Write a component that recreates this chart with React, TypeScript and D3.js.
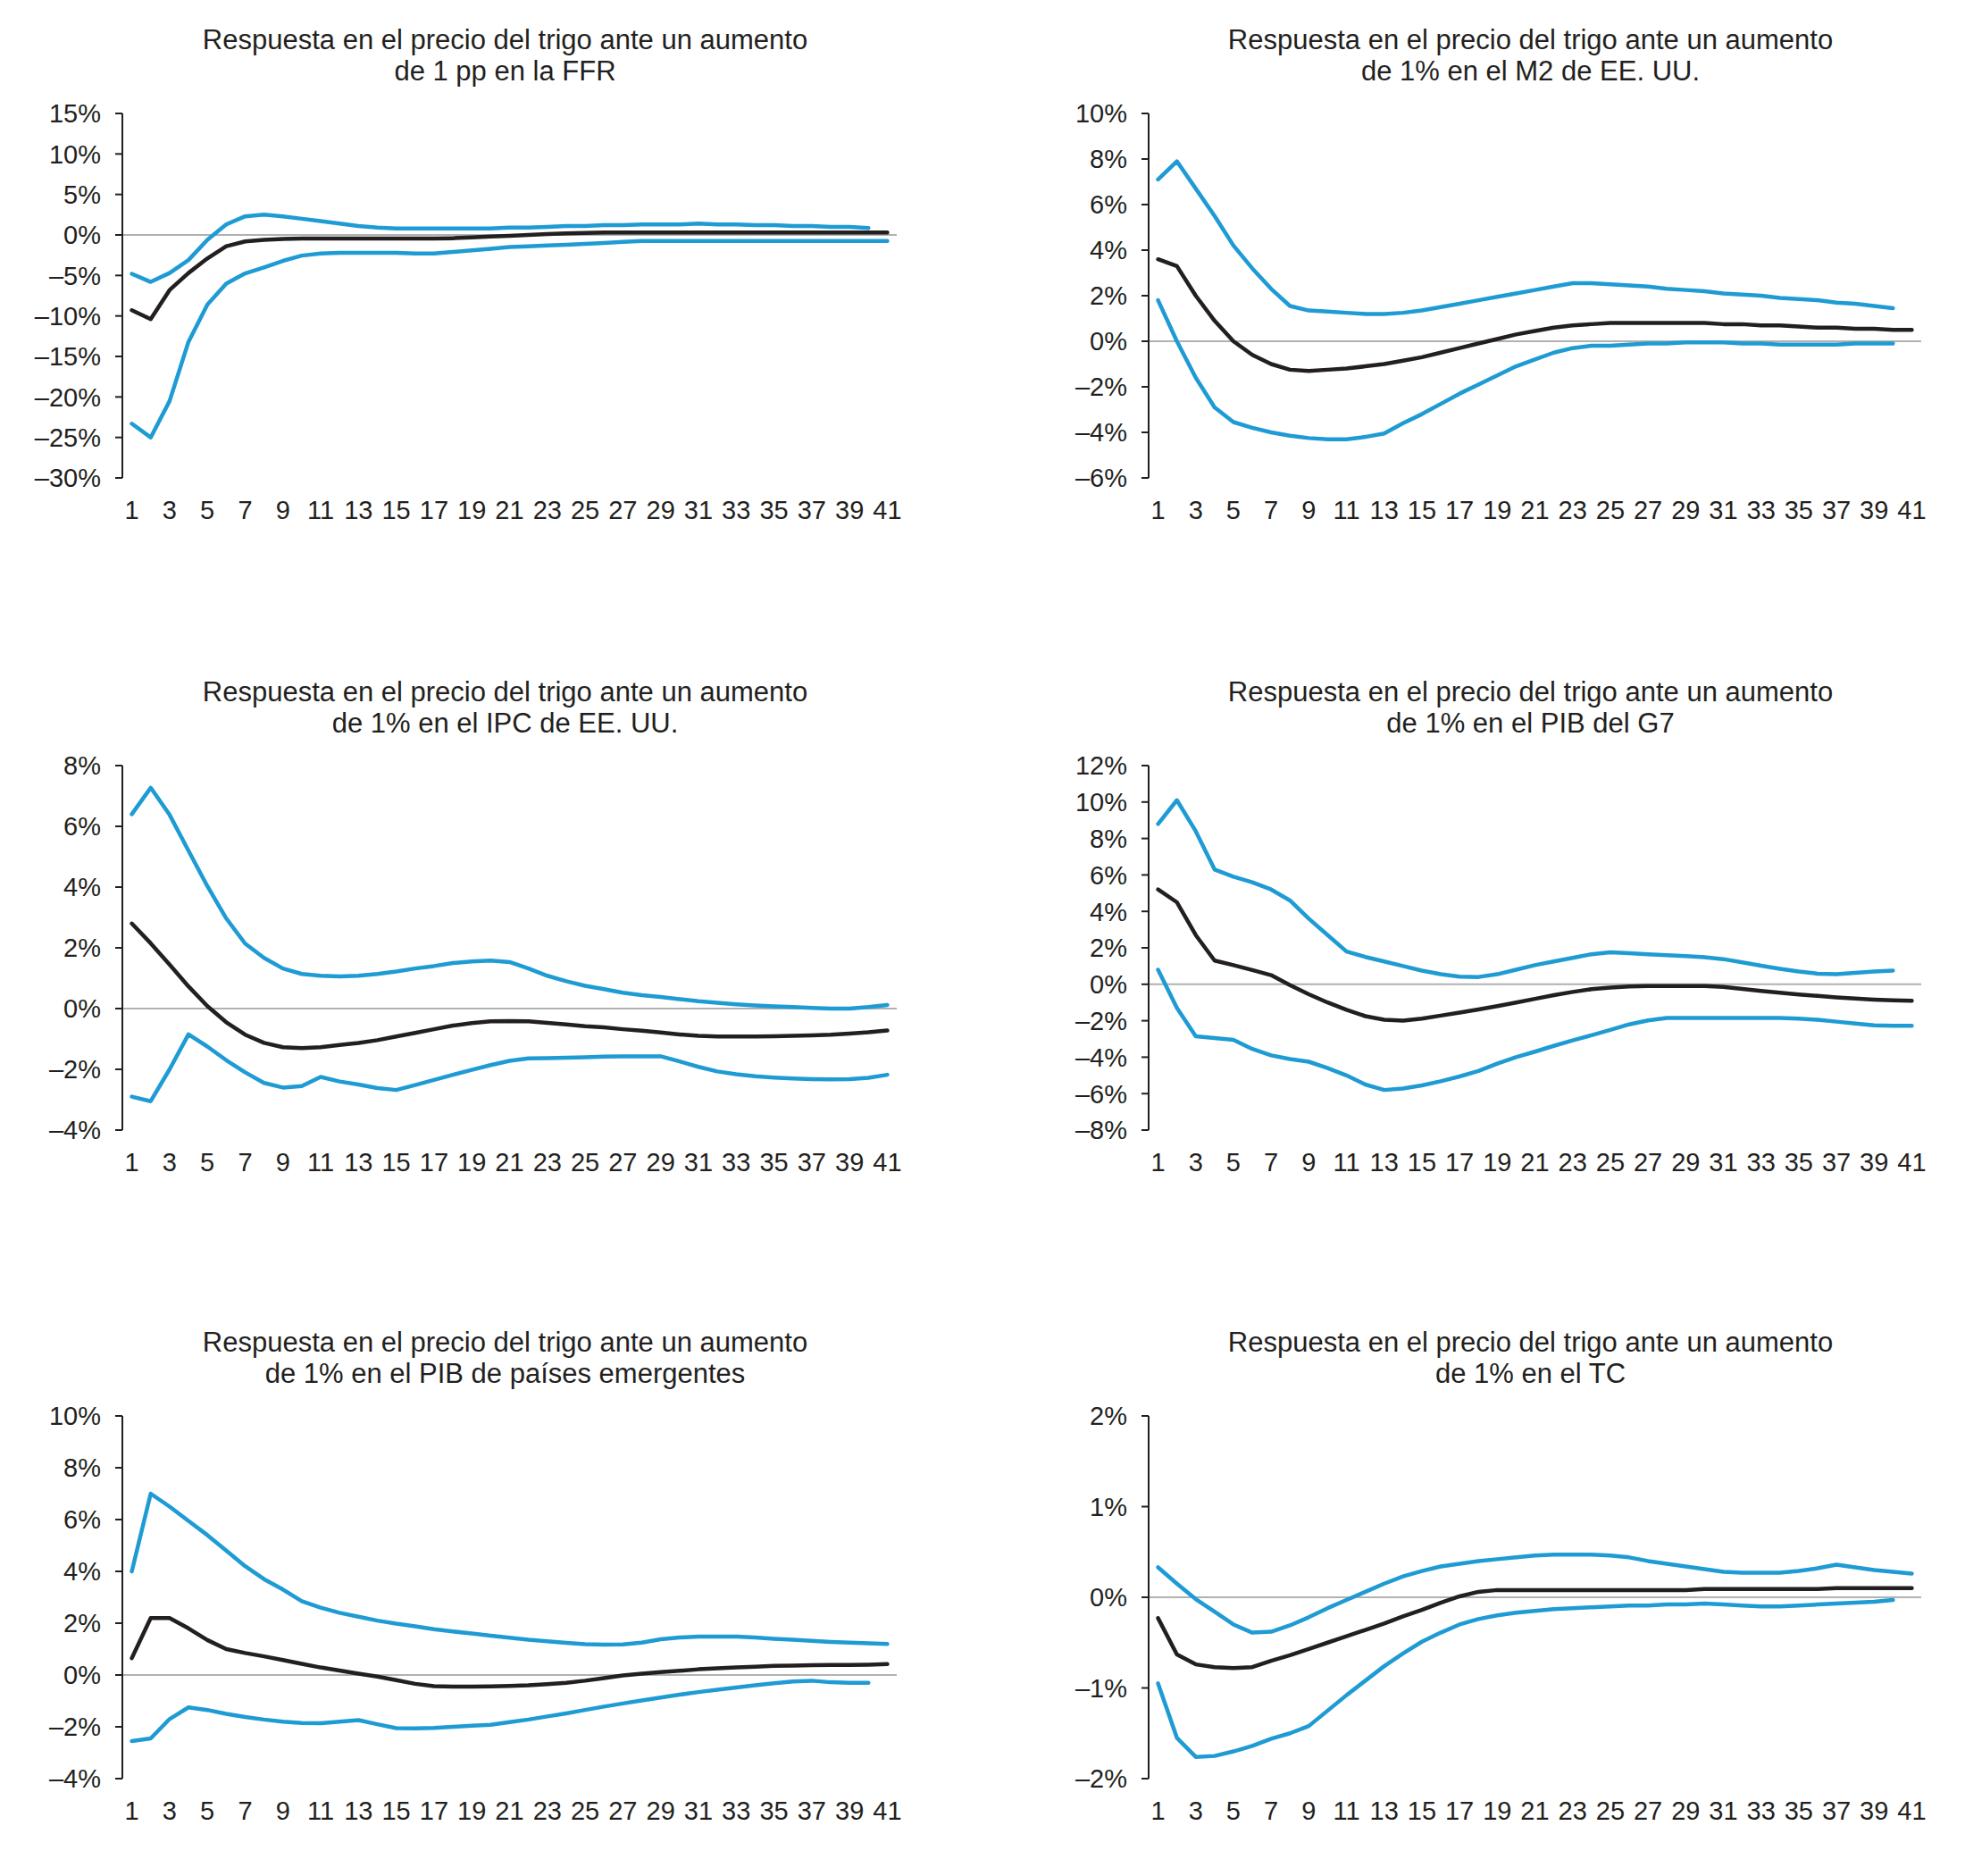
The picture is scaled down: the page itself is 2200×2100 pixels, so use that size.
import React from 'react';
import * as d3 from 'd3';

const periods = [1,2,3,4,5,6,7,8,9,10,11,12,13,14,15,16,17,18,19,20,21,22,23,24,25,26,27,28,29,30,31,32,33,34,35,36,37,38,39,40,41];
const xTickLabels = [1,3,5,7,9,11,13,15,17,19,21,23,25,27,29,31,33,35,37,39,41];

const titleLine1 = 'Respuesta en el precio del trigo ante un aumento';

// Panel 1: FFR
const ffrTitle = 'de 1 pp en la FFR';
const ffrTicks = [15,10,5,0,-5,-10,-15,-20,-25,-30];
const ffrMid = [-9.3,-10.4,-6.8,-4.7,-2.9,-1.4,-0.8,-0.6,-0.5,-0.45,-0.45,-0.45,-0.45,-0.45,-0.45,-0.45,-0.45,-0.4,-0.3,-0.2,-0.1,0.0,0.1,0.2,0.25,0.3,0.3,0.3,0.3,0.3,0.3,0.3,0.3,0.3,0.3,0.3,0.3,0.3,0.3,0.3,0.3];
const ffrUpper = [-4.8,-5.8,-4.7,-3.1,-0.6,1.3,2.3,2.5,2.3,2.0,1.7,1.4,1.1,0.9,0.8,0.8,0.8,0.8,0.8,0.8,0.9,0.9,1.0,1.1,1.1,1.2,1.2,1.3,1.3,1.3,1.4,1.3,1.3,1.2,1.2,1.1,1.1,1.0,1.0,0.85];
const ffrLower = [-23.3,-25.0,-20.5,-13.2,-8.6,-6.0,-4.75,-4.0,-3.2,-2.55,-2.3,-2.2,-2.2,-2.2,-2.2,-2.3,-2.3,-2.1,-1.9,-1.7,-1.5,-1.4,-1.3,-1.2,-1.1,-1.0,-0.85,-0.75,-0.75,-0.75,-0.75,-0.75,-0.75,-0.75,-0.75,-0.75,-0.75,-0.75,-0.75,-0.75,-0.75];

// Panel 2: M2
const m2Title = 'de 1% en el M2 de EE. UU.';
const m2Ticks = [10,8,6,4,2,0,-2,-4,-6];
const m2Mid = [3.6,3.3,2.0,0.9,0.0,-0.6,-1.0,-1.25,-1.3,-1.25,-1.2,-1.1,-1.0,-0.85,-0.7,-0.5,-0.3,-0.1,0.1,0.3,0.45,0.6,0.7,0.75,0.8,0.8,0.8,0.8,0.8,0.8,0.75,0.75,0.7,0.7,0.65,0.6,0.6,0.55,0.55,0.5,0.5];
const m2Upper = [7.1,7.9,6.7,5.5,4.2,3.2,2.3,1.55,1.35,1.3,1.25,1.2,1.2,1.25,1.35,1.5,1.65,1.8,1.95,2.1,2.25,2.4,2.55,2.55,2.5,2.45,2.4,2.3,2.25,2.2,2.1,2.05,2.0,1.9,1.85,1.8,1.7,1.65,1.55,1.45];
const m2Lower = [1.8,0.0,-1.6,-2.9,-3.55,-3.8,-4.0,-4.15,-4.25,-4.3,-4.3,-4.2,-4.05,-3.6,-3.2,-2.75,-2.3,-1.9,-1.5,-1.1,-0.8,-0.5,-0.3,-0.2,-0.2,-0.15,-0.1,-0.1,-0.05,-0.05,-0.05,-0.1,-0.1,-0.15,-0.15,-0.15,-0.15,-0.1,-0.1,-0.1];

// Panel 3: IPC
const ipcTitle = 'de 1% en el IPC de EE. UU.';
const ipcTicks = [8,6,4,2,0,-2,-4];
const ipcMid = [2.8,2.15,1.45,0.73,0.08,-0.45,-0.86,-1.13,-1.27,-1.3,-1.27,-1.2,-1.13,-1.04,-0.92,-0.8,-0.68,-0.56,-0.48,-0.42,-0.41,-0.42,-0.47,-0.52,-0.58,-0.62,-0.68,-0.73,-0.79,-0.85,-0.9,-0.92,-0.92,-0.92,-0.91,-0.9,-0.88,-0.86,-0.82,-0.78,-0.72];
const ipcUpper = [6.4,7.27,6.38,5.2,4.03,2.97,2.14,1.67,1.32,1.14,1.08,1.06,1.08,1.14,1.22,1.32,1.4,1.5,1.55,1.58,1.53,1.32,1.08,0.9,0.75,0.64,0.52,0.44,0.38,0.31,0.24,0.19,0.14,0.1,0.07,0.05,0.02,0.0,0.0,0.05,0.12];
const ipcLower = [-2.9,-3.05,-2.0,-0.85,-1.25,-1.7,-2.1,-2.45,-2.6,-2.55,-2.25,-2.4,-2.5,-2.62,-2.68,-2.52,-2.35,-2.18,-2.02,-1.86,-1.72,-1.64,-1.63,-1.62,-1.6,-1.58,-1.57,-1.57,-1.57,-1.74,-1.92,-2.07,-2.16,-2.23,-2.27,-2.3,-2.32,-2.33,-2.32,-2.28,-2.18];

// Panel 4: G7
const g7Title = 'de 1% en el PIB del G7';
const g7Ticks = [12,10,8,6,4,2,0,-2,-4,-6,-8];
const g7Mid = [5.2,4.5,2.7,1.3,1.05,0.78,0.5,-0.05,-0.55,-1.0,-1.4,-1.75,-1.95,-2.0,-1.88,-1.72,-1.55,-1.38,-1.2,-1.0,-0.8,-0.6,-0.42,-0.27,-0.18,-0.12,-0.1,-0.1,-0.1,-0.1,-0.15,-0.25,-0.36,-0.46,-0.56,-0.64,-0.72,-0.78,-0.84,-0.88,-0.9];
const g7Upper = [8.8,10.1,8.4,6.3,5.9,5.6,5.2,4.6,3.6,2.7,1.8,1.5,1.25,1.0,0.75,0.55,0.42,0.4,0.55,0.8,1.05,1.25,1.45,1.65,1.75,1.7,1.65,1.6,1.55,1.48,1.38,1.2,1.02,0.85,0.7,0.58,0.55,0.63,0.7,0.75];
const g7Lower = [0.8,-1.3,-2.85,-2.95,-3.05,-3.55,-3.9,-4.1,-4.25,-4.6,-5.0,-5.5,-5.8,-5.72,-5.55,-5.32,-5.06,-4.76,-4.35,-4.0,-3.7,-3.38,-3.08,-2.8,-2.5,-2.2,-1.98,-1.85,-1.85,-1.85,-1.85,-1.85,-1.85,-1.85,-1.88,-1.95,-2.05,-2.15,-2.25,-2.28,-2.28];

// Panel 5: emergentes
const emTitle = 'de 1% en el PIB de países emergentes';
const emTicks = [10,8,6,4,2,0,-2,-4];
const emMid = [0.65,2.2,2.2,1.8,1.35,1.0,0.85,0.72,0.58,0.43,0.29,0.17,0.05,-0.06,-0.2,-0.34,-0.43,-0.45,-0.45,-0.44,-0.42,-0.4,-0.35,-0.3,-0.22,-0.12,-0.02,0.05,0.11,0.16,0.22,0.26,0.29,0.32,0.35,0.36,0.38,0.39,0.39,0.4,0.42];
const emUpper = [4.0,7.0,6.5,5.95,5.4,4.8,4.2,3.7,3.3,2.85,2.6,2.4,2.25,2.1,1.98,1.88,1.77,1.68,1.6,1.52,1.44,1.36,1.3,1.24,1.19,1.17,1.18,1.25,1.38,1.45,1.48,1.48,1.48,1.45,1.4,1.36,1.32,1.28,1.25,1.22,1.2];
const emLower = [-2.55,-2.45,-1.7,-1.25,-1.35,-1.5,-1.62,-1.72,-1.8,-1.85,-1.86,-1.8,-1.74,-1.9,-2.05,-2.06,-2.04,-2.0,-1.96,-1.92,-1.82,-1.72,-1.6,-1.48,-1.35,-1.22,-1.1,-0.98,-0.87,-0.76,-0.66,-0.57,-0.48,-0.4,-0.32,-0.25,-0.22,-0.28,-0.3,-0.3];

// Panel 6: TC
const tcTitle = 'de 1% en el TC';
const tcTicks = [2,1,0,-1,-2];
const tcMid = [-0.23,-0.63,-0.74,-0.77,-0.78,-0.77,-0.7,-0.64,-0.57,-0.5,-0.43,-0.36,-0.29,-0.21,-0.14,-0.06,0.01,0.06,0.08,0.08,0.08,0.08,0.08,0.08,0.08,0.08,0.08,0.08,0.08,0.09,0.09,0.09,0.09,0.09,0.09,0.09,0.1,0.1,0.1,0.1,0.1];
const tcUpper = [0.33,0.15,-0.02,-0.16,-0.3,-0.39,-0.38,-0.31,-0.22,-0.12,-0.03,0.06,0.15,0.23,0.29,0.34,0.37,0.4,0.42,0.44,0.46,0.47,0.47,0.47,0.46,0.44,0.4,0.37,0.34,0.31,0.28,0.27,0.27,0.27,0.29,0.32,0.36,0.33,0.3,0.28,0.26];
const tcLower = [-0.95,-1.55,-1.76,-1.75,-1.7,-1.64,-1.56,-1.5,-1.42,-1.25,-1.08,-0.92,-0.76,-0.62,-0.49,-0.39,-0.3,-0.24,-0.2,-0.17,-0.15,-0.13,-0.12,-0.11,-0.1,-0.09,-0.09,-0.08,-0.08,-0.07,-0.08,-0.09,-0.1,-0.1,-0.09,-0.08,-0.07,-0.06,-0.05,-0.03];

const BLUE = '#1f9bd4';
const DARK = '#231f20';
const FONT = '"Liberation Sans", Arial, Helvetica, sans-serif';

const COL_LEFT = [137, 1286];
const COL_RIGHT = [1004, 2151];
const ROW_TOP = [127, 857, 1585];
const ROW_BOTTOM = [535, 1265, 1991];

const panels = [
  { title: ffrTitle, ticks: ffrTicks, mid: ffrMid, upper: ffrUpper, lower: ffrLower, col: 0, row: 0 },
  { title: m2Title, ticks: m2Ticks, mid: m2Mid, upper: m2Upper, lower: m2Lower, col: 1, row: 0 },
  { title: ipcTitle, ticks: ipcTicks, mid: ipcMid, upper: ipcUpper, lower: ipcLower, col: 0, row: 1 },
  { title: g7Title, ticks: g7Ticks, mid: g7Mid, upper: g7Upper, lower: g7Lower, col: 1, row: 1 },
  { title: emTitle, ticks: emTicks, mid: emMid, upper: emUpper, lower: emLower, col: 0, row: 2 },
  { title: tcTitle, ticks: tcTicks, mid: tcMid, upper: tcUpper, lower: tcLower, col: 1, row: 2 },
];

const fmt = (v: number) => (v < 0 ? '\u2013' + Math.abs(v) : String(v)) + '%';

function Panel({ p }: { p: typeof panels[number] }) {
  const left = COL_LEFT[p.col];
  const right = COL_RIGHT[p.col];
  const top = ROW_TOP[p.row];
  const bottom = ROW_BOTTOM[p.row];
  const x = d3.scaleBand<number>().domain(periods).range([left, right]).padding(0);
  const cx = (per: number) => (x(per) as number) + x.bandwidth() / 2;
  const y = d3.scaleLinear().domain([d3.min(p.ticks) as number, d3.max(p.ticks) as number]).range([bottom, top]);
  const line = d3.line<number>().x((_, i) => cx(periods[i])).y((d) => y(d)).curve(d3.curveLinear);
  const center = (left + right) / 2 - 5;
  return (
    <g>
      <text x={center} y={top - 72} textAnchor="middle" fontSize={31} fill={DARK} fontFamily={FONT}>{titleLine1}</text>
      <text x={center} y={top - 37} textAnchor="middle" fontSize={31} fill={DARK} fontFamily={FONT}>{p.title}</text>
      <line x1={left} x2={right} y1={y(0)} y2={y(0)} stroke="#b1b1b1" strokeWidth={2} />
      <line x1={left} x2={left} y1={top} y2={bottom} stroke={DARK} strokeWidth={2} />
      {p.ticks.map((t) => (
        <g key={t}>
          <line x1={left - 8} x2={left} y1={y(t)} y2={y(t)} stroke={DARK} strokeWidth={2} />
          <text x={left - 24} y={y(t)} dy="0.36em" textAnchor="end" fontSize={29} fill={DARK} fontFamily={FONT}>{fmt(t)}</text>
        </g>
      ))}
      {xTickLabels.map((t) => (
        <text key={t} x={cx(t)} y={bottom + 46} textAnchor="middle" fontSize={29} fill={DARK} fontFamily={FONT}>{t}</text>
      ))}
      <path d={line(p.upper) || ''} fill="none" stroke={BLUE} strokeWidth={4.5} strokeLinejoin="round" strokeLinecap="round" />
      <path d={line(p.lower) || ''} fill="none" stroke={BLUE} strokeWidth={4.5} strokeLinejoin="round" strokeLinecap="round" />
      <path d={line(p.mid) || ''} fill="none" stroke={DARK} strokeWidth={4.5} strokeLinejoin="round" strokeLinecap="round" />
    </g>
  );
}

export default function App() {
  return (
    <svg width={2200} height={2100} viewBox="0 0 2200 2100" style={{ position: 'absolute', left: 0, top: 0, background: '#ffffff' }}>
      <rect x={0} y={0} width={2200} height={2100} fill="#ffffff" />
      {panels.map((p, i) => (
        <Panel key={i} p={p} />
      ))}
    </svg>
  );
}
